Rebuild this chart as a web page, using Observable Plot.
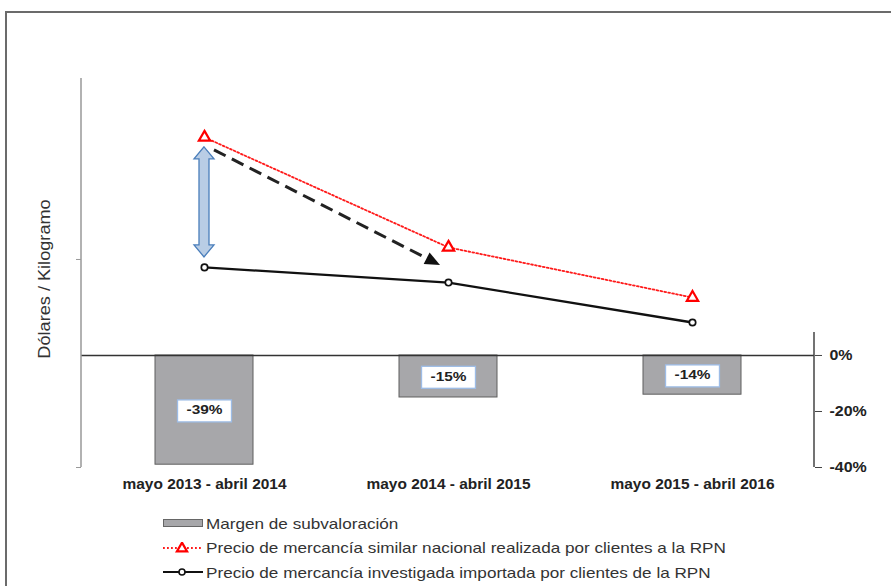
<!DOCTYPE html>
<html><head><meta charset="utf-8">
<script src="https://cdn.jsdelivr.net/npm/d3@7"></script>
<script src="https://cdn.jsdelivr.net/npm/@observablehq/plot@0.6"></script>
<style>
html,body{margin:0;padding:0;}
body{width:891px;height:586px;overflow:hidden;background:#fff;font-family:"Liberation Sans",Arial,sans-serif;position:relative;}
#frame{position:absolute;left:5px;top:11px;width:1000px;height:1000px;border-left:2px solid #6b6b6b;border-top:2px solid #6b6b6b;box-sizing:border-box;}
#chart{position:absolute;left:0;top:0;width:891px;height:500px;}
#chart svg{position:absolute;left:0;top:0;}
#legend{position:absolute;left:163px;top:511px;font-size:15px;color:#333;}
.row{display:flex;align-items:center;height:24.5px;white-space:nowrap;}
.row svg{margin-right:2px;flex:none;}
.row span{display:inline-block;transform:scaleX(1.142);transform-origin:left center;}
</style>
</head><body>
<div id="frame"></div>
<div id="chart"></div>
<div id="legend"></div>
<script>
// ---- data ----
const categories = ["mayo 2013 - abril 2014", "mayo 2014 - abril 2015", "mayo 2015 - abril 2016"];
const marginPct = [-39, -15, -14];                 // Margen de subvaloración (%)
const priceNational = [1.587, 1.058, 0.817];       // relative units (axis values not shown)
const priceImported = [0.962, 0.889, 0.697];
const pctTicks = [0, -20, -40];
const priceTicks = [0, 1];
const yAxisLabel = "Dólares / Kilogramo";
const legendLabels = [
  "Margen de subvaloración",
  "Precio de mercancía similar nacional realizada por clientes a la RPN",
  "Precio de mercancía investigada importada por clientes de la RPN"
];

const barData = categories.map((c, i) => ({cat: c, v: marginPct[i]}));
const natData = categories.map((c, i) => ({cat: c, v: priceNational[i]}));
const impData = categories.map((c, i) => ({cat: c, v: priceImported[i]}));

const dims = {width: 891, height: 500, marginLeft: 81, marginRight: 77, marginTop: 78, marginBottom: 33};
const font = {background: "transparent", overflow: "visible", fontFamily: "'Liberation Sans', Arial, sans-serif"};

// ---- bars (secondary axis, %) ----
const bars = Plot.plot({
  ...dims, style: font,
  x: {type: "band", domain: categories, paddingInner: 0.6, paddingOuter: 0.3, axis: null},
  y: {domain: [-40, 98.9], axis: null},
  marks: [
    Plot.barY(barData, {x: "cat", y: "v", fill: "#a7a7aa", stroke: "#5e5e5e", strokeWidth: 1}),
    Plot.ruleY([0], {stroke: "#333", strokeWidth: 1.5}),
    Plot.axisY(pctTicks, {anchor: "right", tickSize: 7, tickPadding: 8, tickFormat: d => d + "%",
      fontSize: 14.5, fontWeight: "bold", fill: "#222", stroke: "#444", label: null}),
    Plot.axisX({anchor: "bottom", tickSize: 0, tickPadding: 11, fontSize: 14.5, fontWeight: "bold",
      fill: "#222", label: null}),
    Plot.text(barData, {x: "cat", y: d => d.v / 2, text: d => d.v + "%", fontSize: 13.5,
      fontWeight: "bold", fill: "#222"})
  ]
});

// ---- lines (primary axis, USD/kg) ----
const lines = Plot.plot({
  ...dims, style: font,
  x: {type: "point", domain: categories, padding: 0.5, axis: null},
  y: {domain: [0, 1.87], axis: null},
  marks: [
    Plot.axisY(priceTicks, {anchor: "left", tickSize: 5, tickFormat: () => "", stroke: "#999", label: null}),
    Plot.text([yAxisLabel], {frameAnchor: "left", textAnchor: "middle", rotate: -90, dx: -37, dy: 6,
      fontSize: 16.5, fill: "#333"}),
    Plot.line(natData, {x: "cat", y: "v", stroke: "#ff1a1a", strokeWidth: 1.8, strokeDasharray: "1.8,2.2"}),
    Plot.line(impData, {x: "cat", y: "v", stroke: "#111", strokeWidth: 2.3}),
    Plot.dot(natData, {x: "cat", y: "v", symbol: "triangle", r: 4.2, stroke: "#ff0000", strokeWidth: 2.2, fill: "white"}),
    Plot.dot(impData, {x: "cat", y: "v", r: 3.2, stroke: "#111", strokeWidth: 1.7, fill: "white"})
  ]
});

const chart = document.getElementById("chart");
chart.appendChild(bars);
chart.appendChild(lines);

const by = bars.scale("y");
const lx = lines.scale("x"), ly = lines.scale("y");
const svgB = d3.select(bars), svgL = d3.select(lines);

// horizontal stretch of text (reference type is wide) without moving its anchor
function stretch(sel, k) {
  sel.each(function() {
    const len = this.getComputedTextLength();
    if (len > 0) {
      this.setAttribute("textLength", (len * k).toFixed(2));
      this.setAttribute("lengthAdjust", "spacingAndGlyphs");
    }
  });
}

// boxes behind data labels (screen coordinates relative to the svg)
const kLab = 1.14;
const labelG = svgB.selectAll("g[aria-label='text']");
stretch(labelG.selectAll("text"), kLab);
{
  const sr = bars.getBoundingClientRect();
  const boxes = [];
  labelG.selectAll("text").each(function() {
    const r = this.getBoundingClientRect();
    boxes.push({cx: r.left + r.width / 2 - sr.left, cy: r.top + r.height / 2 - sr.top, w: r.width + 18, h: 22});
  });
  const g = svgB.insert("g", () => labelG.node());
  g.selectAll("rect").data(boxes).join("rect")
    .attr("x", d => d.cx - d.w / 2).attr("y", d => d.cy - d.h / 2 + 1)
    .attr("width", d => d.w).attr("height", d => d.h)
    .attr("fill", "white").attr("stroke", "#9dbce6").attr("stroke-width", 1.3);
}
stretch(svgB.selectAll("g[aria-label='x-axis tick label'] text"), 1.065);
stretch(svgB.selectAll("g[aria-label='y-axis tick label'] text"), 1.1);
stretch(svgL.selectAll("g[aria-label='text'] text"), 1.1);

// right axis line
const xr = dims.width - dims.marginRight;
svgB.append("line").attr("x1", xr).attr("x2", xr).attr("y1", by.apply(8.2)).attr("y2", by.apply(-40))
  .attr("stroke", "#444").attr("stroke-width", 1.5);

// left axis line
svgL.insert("line", ":first-child").attr("x1", dims.marginLeft).attr("x2", dims.marginLeft)
  .attr("y1", dims.marginTop).attr("y2", dims.height - dims.marginBottom)
  .attr("stroke", "#999").attr("stroke-width", 1.5);

// blue double-headed arrow (gap between the two prices in the first period)
{
  const x = lx.apply(categories[0]);
  const yT = ly.apply(priceNational[0]) + 10, yB = ly.apply(priceImported[0]) - 10;
  const h = 12, hw = 10, sw = 5;
  const p = `M${x},${yT} L${x+hw},${yT+h} L${x+sw},${yT+h} L${x+sw},${yB-h} L${x+hw},${yB-h} L${x},${yB} L${x-hw},${yB-h} L${x-sw},${yB-h} L${x-sw},${yT+h} L${x-hw},${yT+h} Z`;
  svgL.append("path").attr("d", p).attr("fill", "#b9cde5").attr("stroke", "#4a7ebb").attr("stroke-width", 1.3);
}

// dashed trend arrow
{
  const x1 = lx.apply(categories[0]) + 10, y1 = ly.apply(priceNational[0]) + 13;
  const x2 = lx.apply(categories[1]) - 8, y2 = ly.apply(priceImported[1]) - 17;
  const ang = Math.atan2(y2 - y1, x2 - x1), L = 15, W = 6.5;
  const bxp = x2 - L * Math.cos(ang), byp = y2 - L * Math.sin(ang);
  svgL.append("line").attr("x1", x1).attr("y1", y1).attr("x2", bxp).attr("y2", byp)
    .attr("stroke", "#222").attr("stroke-width", 3).attr("stroke-dasharray", "13,7");
  const px = -Math.sin(ang), py = Math.cos(ang);
  svgL.append("path")
    .attr("d", `M${x2},${y2} L${bxp + W*px},${byp + W*py} L${bxp - W*px},${byp - W*py} Z`)
    .attr("fill", "#111");
}

// ---- legend ----
const legend = d3.select("#legend");
const sw = [
  s => s.append("rect").attr("x", 0.5).attr("y", 2.5).attr("width", 39).attr("height", 7).attr("fill", "#a7a7aa").attr("stroke", "#666"),
  s => { s.append("line").attr("x1", 0).attr("x2", 40).attr("y1", 6).attr("y2", 6).attr("stroke", "#ff1a1a").attr("stroke-width", 1.8).attr("stroke-dasharray", "1.8,2.2");
         s.append("path").attr("d", d3.symbol(d3.symbolTriangle, 45)()).attr("transform", "translate(19,6.5)").attr("fill", "white").attr("stroke", "#ff0000").attr("stroke-width", 2.2); },
  s => { s.append("line").attr("x1", 0).attr("x2", 40).attr("y1", 6).attr("y2", 6).attr("stroke", "#111").attr("stroke-width", 2.2);
         s.append("circle").attr("cx", 19).attr("cy", 6).attr("r", 3).attr("fill", "white").attr("stroke", "#111").attr("stroke-width", 1.6); }
];
legendLabels.forEach((t, i) => {
  const row = legend.append("div").attr("class", "row");
  const s = row.append("svg").attr("width", 41).attr("height", 12);
  sw[i](s);
  row.append("span").text(t);
});
</script>
</body></html>
